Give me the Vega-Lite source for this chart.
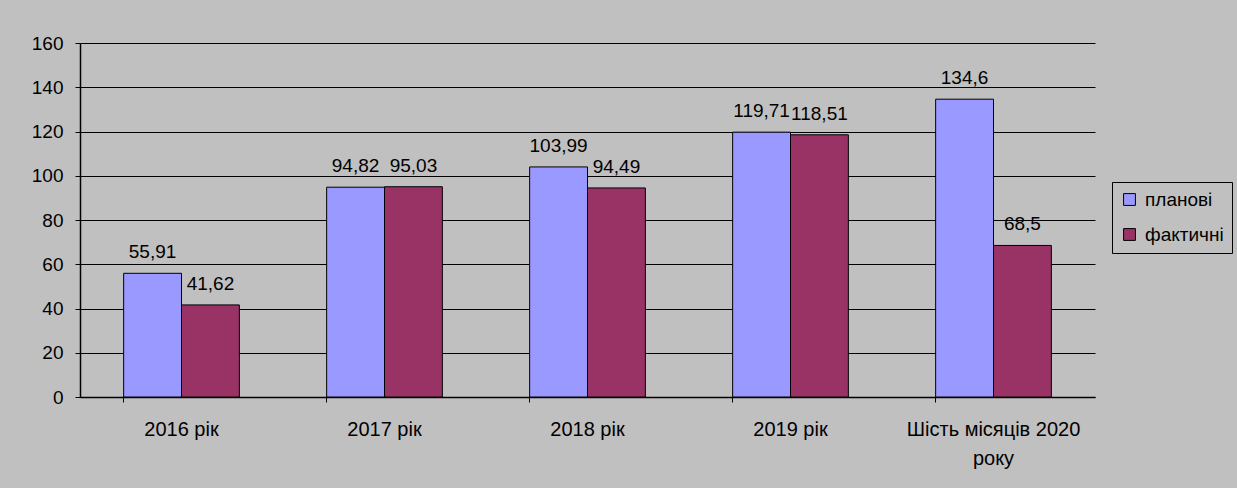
{
  "$schema": "https://vega.github.io/schema/vega-lite/v6.json",
  "autosize": {"type": "none"},
  "width": 1015,
  "height": 354,
  "padding": {"left": 80, "top": 43, "right": 142, "bottom": 91},
  "background": "#c0c0c0",
  "config": {
    "view": {"stroke": null},
    "font": "Liberation Sans",
    "axis": {"labelFont": "Liberation Sans", "labelFontSize": 19, "labelColor": "#000000", "domainColor": "#000000", "tickColor": "#000000"},
    "legend": {"labelFont": "Liberation Sans"}
  },
  "data": {
    "values": [
      {"category": "2016 рік", "series": "планові", "value": 55.91, "label": "55,91"},
      {"category": "2016 рік", "series": "фактичні", "value": 41.62, "label": "41,62"},
      {"category": "2017 рік", "series": "планові", "value": 94.82, "label": "94,82"},
      {"category": "2017 рік", "series": "фактичні", "value": 95.03, "label": "95,03"},
      {"category": "2018 рік", "series": "планові", "value": 103.99, "label": "103,99"},
      {"category": "2018 рік", "series": "фактичні", "value": 94.49, "label": "94,49"},
      {"category": "2019 рік", "series": "планові", "value": 119.71, "label": "119,71"},
      {"category": "2019 рік", "series": "фактичні", "value": 118.51, "label": "118,51"},
      {"category": "Шість місяців 2020 року", "series": "планові", "value": 134.6, "label": "134,6"},
      {"category": "Шість місяців 2020 року", "series": "фактичні", "value": 68.5, "label": "68,5"}
    ]
  },
  "encoding": {
    "x": {
      "field": "category",
      "type": "nominal",
      "sort": null,
      "title": null,
      "scale": {"paddingInner": 0.43, "paddingOuter": 0.215},
      "axis": {
        "labelAngle": 0,
        "bandPosition": 0,
        "tickSize": 5,
        "labelPadding": 17,
        "labelFontSize": 20,
        "labelLineHeight": 29,
        "labelExpr": "datum.value == 'Шість місяців 2020 року' ? ['Шість місяців 2020', 'року'] : datum.value",
        "domainWidth": 1.5,
        "grid": false
      }
    },
    "xOffset": {"field": "series", "type": "nominal", "sort": ["планові", "фактичні"], "scale": {"paddingInner": 0, "paddingOuter": 0}},
    "y": {
      "field": "value",
      "type": "quantitative",
      "title": null,
      "scale": {"domain": [0, 160], "nice": false},
      "axis": {
        "values": [0, 20, 40, 60, 80, 100, 120, 140, 160],
        "tickSize": 5,
        "labelPadding": 12,
        "grid": true,
        "gridColor": "#000000",
        "gridOpacity": 1,
        "gridWidth": 1,
        "domainWidth": 1.5
      }
    }
  },
  "layer": [
    {
      "mark": {"type": "bar", "stroke": "#000000", "strokeWidth": 1, "opacity": 1},
      "encoding": {
        "color": {
          "field": "series",
          "type": "nominal",
          "sort": ["планові", "фактичні"],
          "scale": {"domain": ["планові", "фактичні"], "range": ["#9999ff", "#993366"]},
          "legend": {
            "title": null,
            "orient": "none",
            "legendX": 1032,
            "legendY": 139,
            "symbolType": "square",
            "symbolSize": 140,
            "symbolStrokeColor": "#000000",
            "symbolStrokeWidth": 1,
            "symbolOpacity": 1,
            "labelFontSize": 19,
            "labelColor": "#000000",
            "labelOffset": 6,
            "rowPadding": 15,
            "padding": 8,
            "strokeColor": "#000000"
          }
        }
      }
    },
    {
      "mark": {"type": "text", "baseline": "alphabetic", "align": "center", "dy": -15, "fontSize": 19, "color": "#000000"},
      "encoding": {"text": {"field": "label"}}
    }
  ]
}
